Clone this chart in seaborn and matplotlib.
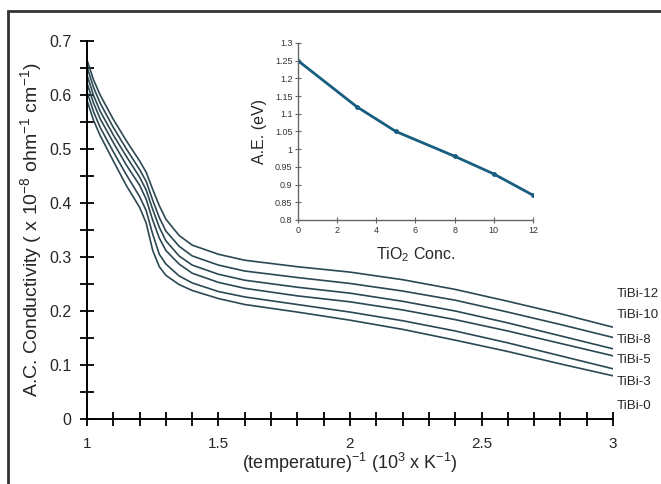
import matplotlib.pyplot as plt
import matplotlib.patches as mpatches
import matplotlib.ticker as mtick
import pandas as pd
import seaborn as sns

sns.set_theme(style='ticks')
plt.rcParams['font.family'] = ['Liberation Sans', 'DejaVu Sans']
plt.rcParams['mathtext.fontset'] = 'custom'
plt.rcParams['mathtext.rm'] = 'Liberation Sans'
plt.rcParams['mathtext.it'] = 'Liberation Sans:italic'
plt.rcParams['mathtext.bf'] = 'Liberation Sans:bold'

# main chart: conductivity vs inverse temperature
inv_temp = [1.0, 1.025, 1.05, 1.1, 1.15, 1.2, 1.225, 1.25, 1.275, 1.3, 1.35,
            1.4, 1.5, 1.6, 1.8, 2.0, 2.2, 2.4, 2.6, 2.8, 3.0]
tibi_12 = [0.665, 0.628, 0.600, 0.555, 0.515, 0.478, 0.457, 0.425, 0.395, 0.370, 0.340,
           0.322, 0.305, 0.294, 0.282, 0.272, 0.258, 0.240, 0.218, 0.195, 0.170]
tibi_10 = [0.652, 0.614, 0.585, 0.540, 0.500, 0.462, 0.440, 0.405, 0.373, 0.348, 0.320,
           0.302, 0.285, 0.274, 0.262, 0.251, 0.237, 0.220, 0.198, 0.175, 0.151]
tibi_8 = [0.637, 0.599, 0.570, 0.526, 0.486, 0.448, 0.424, 0.388, 0.355, 0.330, 0.302,
          0.285, 0.268, 0.257, 0.244, 0.233, 0.218, 0.200, 0.178, 0.154, 0.130]
tibi_5 = [0.622, 0.585, 0.556, 0.512, 0.470, 0.433, 0.407, 0.368, 0.335, 0.312, 0.287,
          0.270, 0.253, 0.242, 0.228, 0.217, 0.202, 0.184, 0.163, 0.140, 0.117]
tibi_3 = [0.606, 0.569, 0.540, 0.495, 0.452, 0.412, 0.386, 0.342, 0.305, 0.287, 0.265,
          0.252, 0.236, 0.226, 0.212, 0.198, 0.182, 0.163, 0.141, 0.117, 0.093]
tibi_0 = [0.590, 0.553, 0.525, 0.478, 0.432, 0.392, 0.363, 0.312, 0.282, 0.266, 0.249,
          0.238, 0.223, 0.212, 0.198, 0.183, 0.166, 0.146, 0.125, 0.102, 0.080]

sample_names = ['TiBi-12', 'TiBi-10', 'TiBi-8', 'TiBi-5', 'TiBi-3', 'TiBi-0']
label_y = [0.232, 0.192, 0.147, 0.110, 0.068, 0.024]

# inset: activation energy vs TiO2 concentration
tio2_conc = [0, 3, 5, 8, 10, 12]
act_energy = [1.25, 1.12, 1.05, 0.98, 0.93, 0.87]

series = [tibi_12, tibi_10, tibi_8, tibi_5, tibi_3, tibi_0]
frames = [pd.DataFrame({'x': inv_temp, 'y': s, 'Sample': n})
          for s, n in zip(series, sample_names)]
df = pd.concat(frames, ignore_index=True)

line_col = '#2c4853'
inset_col = '#175d80'

fig = plt.figure(figsize=(6.61, 4.84), dpi=100)
ax = fig.add_axes([0.1316, 0.1343, 0.7958, 0.781])

sns.lineplot(data=df, x='x', y='y', hue='Sample', palette=[line_col] * 6,
             lw=1.2, legend=False, ax=ax)

ax.set_xlim(1, 3)
ax.set_ylim(0, 0.7)
ax.xaxis.set_major_locator(mtick.MultipleLocator(0.5))
ax.xaxis.set_minor_locator(mtick.MultipleLocator(0.1))
ax.yaxis.set_major_locator(mtick.MultipleLocator(0.1))
ax.yaxis.set_minor_locator(mtick.MultipleLocator(0.05))
ax.xaxis.set_major_formatter(mtick.FormatStrFormatter('%g'))
ax.yaxis.set_major_formatter(mtick.FormatStrFormatter('%g'))
for side in ['top', 'right']:
    ax.spines[side].set_visible(False)
for side in ['left', 'bottom']:
    ax.spines[side].set_color('black')
    ax.spines[side].set_linewidth(1.4)
ax.tick_params(which='both', direction='inout', length=10, width=1.3, color='black')
ax.tick_params(axis='y', labelsize=11.5, pad=6)
ax.tick_params(axis='x', labelsize=11, pad=8)

ax.set_xlabel('(temperature)$^{-1}$ (10$^{3}$ x K$^{-1}$)', fontsize=13, labelpad=0)
ax.set_ylabel('A.C. Conductivity ( x 10$^{-8}$ ohm$^{-1}$ cm$^{-1}$)', fontsize=14,
              labelpad=4)

for name, yy in zip(sample_names, label_y):
    ax.text(3.015, yy, name, fontsize=9.6, va='center', ha='left', clip_on=False)

# inset axes
ins = fig.add_axes([0.4508, 0.5455, 0.3555, 0.3657])
sns.lineplot(x=tio2_conc, y=act_energy, color=inset_col, lw=2, marker='o',
             markersize=3.5, markeredgewidth=0, ax=ins)
ins.set_xlim(0, 12)
ins.set_ylim(0.8, 1.3)
ins.xaxis.set_major_locator(mtick.MultipleLocator(2))
ins.yaxis.set_major_locator(mtick.MultipleLocator(0.05))
ins.xaxis.set_major_formatter(mtick.FormatStrFormatter('%g'))
ins.yaxis.set_major_formatter(mtick.FormatStrFormatter('%g'))
for side in ['top', 'right']:
    ins.spines[side].set_visible(False)
for side in ['left', 'bottom']:
    ins.spines[side].set_color('#666666')
    ins.spines[side].set_linewidth(1.0)
ins.tick_params(which='both', direction='inout', length=4, width=0.8,
                color='#666666', labelsize=6.5, labelcolor='#333333', pad=2)
ins.set_xlabel('TiO$_2$ Conc.', fontsize=11.5, labelpad=8)
ins.set_ylabel('A.E. (eV)', fontsize=11.5, labelpad=6)
ins.patch.set_alpha(0)

# outer frame around the figure
frame = mpatches.Rectangle((8 / 661, -0.05), 1.1, 0.05 + 1 - 11 / 484,
                           transform=fig.transFigure, fill=False,
                           edgecolor='#333333', lw=2, clip_on=False)
fig.patches.append(frame)

fig.savefig('out.png', dpi=100)
